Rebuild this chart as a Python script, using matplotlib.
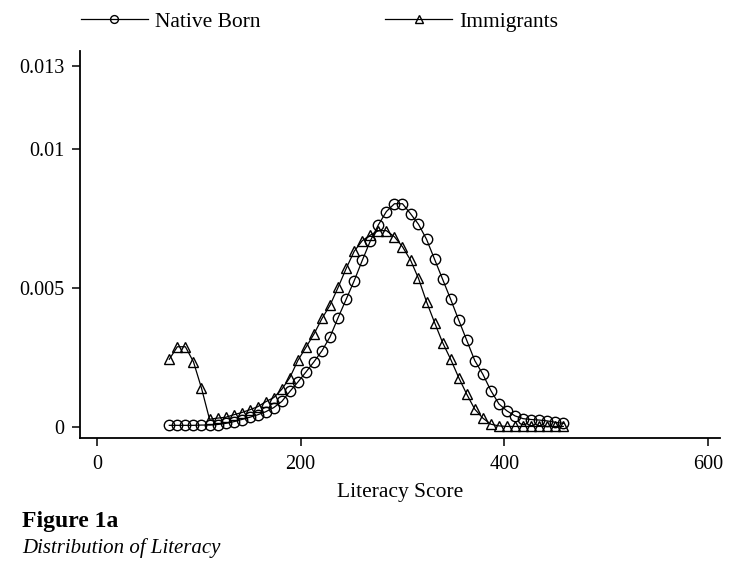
from matplotlib import pyplot as plt

plt.rcParams['font.family'] = ['Liberation Serif', 'DejaVu Serif']

score = [71.0, 78.9, 86.8, 94.7, 102.6, 110.5, 118.4, 126.3, 134.2, 142.1,
         150.0, 157.8, 165.7, 173.6, 181.5, 189.4, 197.3, 205.2, 213.1, 221.0,
         228.9, 236.8, 244.7, 252.6, 260.5, 268.4, 276.3, 284.2, 292.1, 300.0,
         307.9, 315.7, 323.6, 331.5, 339.4, 347.3, 355.2, 363.1, 371.0, 378.9,
         386.8, 394.7, 402.6, 410.5, 418.4, 426.3, 434.2, 442.1, 450.0, 457.9]

# densities in units of 1e-3
native = [0.06, 0.06, 0.06, 0.06, 0.07, 0.07, 0.09, 0.13, 0.19, 0.27,
          0.35, 0.44, 0.55, 0.70, 0.92, 1.28, 1.62, 1.98, 2.35, 2.75,
          3.25, 3.94, 4.60, 5.27, 6.00, 6.70, 7.28, 7.76, 8.04, 8.04,
          7.68, 7.30, 6.76, 6.04, 5.32, 4.60, 3.85, 3.12, 2.39, 1.90,
          1.31, 0.83, 0.58, 0.40, 0.30, 0.27, 0.25, 0.22, 0.17, 0.13]

immig = [2.44, 2.89, 2.89, 2.35, 1.40, 0.28, 0.32, 0.35, 0.44, 0.52,
         0.62, 0.73, 0.91, 1.06, 1.36, 1.78, 2.40, 2.87, 3.35, 3.91,
         4.39, 5.03, 5.71, 6.33, 6.71, 6.91, 7.07, 7.07, 6.85, 6.49,
         6.01, 5.35, 4.51, 3.76, 3.04, 2.44, 1.78, 1.18, 0.64, 0.32,
         0.10, 0.04, 0.02, 0.02, 0.02, 0.02, 0.02, 0.02, 0.02, 0.02]

native = [v / 1000 for v in native]
immig = [v / 1000 for v in immig]

xticks = [0, 200, 400, 600]
yticks = [0, 0.005, 0.01, 0.013]
ylabels = ['0', '0.005', '0.01', '0.013']

fig = plt.figure(figsize=(7.38, 5.71), dpi=100)
ax = fig.add_axes([80/738, 1 - 438/571, 640/738, 387/571])

ax.plot(score, native, color='black', linewidth=0.9, marker='o', markersize=7.5,
        markerfacecolor='none', markeredgewidth=1.0, label='Native Born')
ax.plot(score, immig, color='black', linewidth=0.9, marker='^', markersize=7.5,
        markerfacecolor='none', markeredgewidth=1.0, label='Immigrants')

ax.set_xlim(-16.7, 611.8)
ax.set_ylim(-0.000396, 0.01354)
ax.set_xticks(xticks)
ax.set_yticks(yticks)
ax.set_yticklabels(ylabels)
ax.tick_params(direction='out', length=6, width=1.1, labelsize=14.5)
ax.tick_params(axis='x', pad=6)
ax.tick_params(axis='y', pad=5)
for s in ['top', 'right']:
    ax.spines[s].set_visible(False)
for s in ['left', 'bottom']:
    ax.spines[s].set_linewidth(1.3)
ax.set_xlabel('Literacy Score', fontsize=15.5, labelpad=7)

fig.legend(loc='center left', bbox_to_anchor=(81/738, 1 - 22/571), ncol=2,
           frameon=False, fontsize=15.5, handlelength=3.1, handletextpad=0.33,
           columnspacing=5.8, borderpad=0, borderaxespad=0, markerscale=0.75)

fig.text(22/738, 1 - 521/571, 'Figure 1a', fontsize=17, fontweight='bold',
         va='center', ha='left')
fig.text(22/738, 1 - 548/571, 'Distribution of Literacy', fontsize=15,
         style='italic', va='center', ha='left')

plt.savefig('out.png', dpi=100)
